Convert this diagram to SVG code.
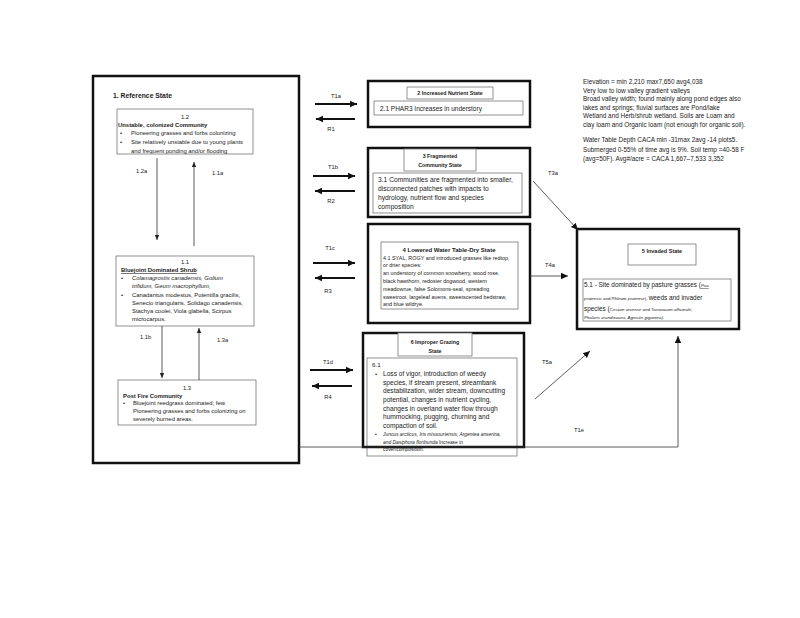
<svg xmlns="http://www.w3.org/2000/svg" width="800" height="618" viewBox="0 0 800 618">
<defs>
<style>
text{font-family:"Liberation Sans",Arial,sans-serif;fill:#1a1a1a}
.b{font-weight:bold}
.i{font-style:italic}
.mid{text-anchor:middle}
.outer{fill:none;stroke:#111;stroke-width:2.5}
.inner{fill:#fff;stroke:#777;stroke-width:0.8}
.thick{stroke:#111;stroke-width:1.8;fill:none}
.thin{stroke:#333;stroke-width:0.8;fill:none}
.lbl{font-size:5.8px}
</style>
<marker id="ah" markerUnits="userSpaceOnUse" markerWidth="8" markerHeight="8" refX="7" refY="4" orient="auto"><path d="M0,0.8 L7,4 L0,7.2 Z" fill="#111"/></marker>
<marker id="as" markerUnits="userSpaceOnUse" markerWidth="6" markerHeight="6" refX="5" refY="3" orient="auto"><path d="M0,0.8 L5,3 L0,5.2 Z" fill="#222"/></marker>
</defs>
<rect width="800" height="618" fill="#fff"/>

<g id="ref-state">
<rect class="outer" x="93" y="76" width="206" height="387"/>
<text class="b" x="113" y="98" font-size="6.8">1. Reference State</text>
</g>

<g id="node-1-2">
<rect class="inner" x="117" y="109" width="136" height="45"/>
<text class="mid" x="185" y="119" font-size="5.9">1.2</text>
<text class="b" x="118" y="126.5" font-size="5.9">Unstable, colonized Community</text>
<text x="120" y="135" font-size="5.9">•</text>
<text x="131" y="135" font-size="5.9">Pioneering grasses and forbs colonizing</text>
<text x="120" y="144" font-size="5.9">•</text>
<text x="131" y="144" font-size="5.9">Site relatively unstable due to young plants</text>
<text x="131" y="152.5" font-size="5.9">and frequent ponding and/or flooding</text>
</g>

<g id="node-1-1">
<rect class="inner" x="116" y="256" width="138" height="70"/>
<text class="mid" x="185" y="264" font-size="5.9">1.1</text>
<text class="b" x="121" y="272" font-size="5.9" text-decoration="underline">Bluejoint Dominated Shrub</text>
<text x="121" y="280" font-size="5.9">•</text>
<text class="i" x="132" y="280" font-size="5.9">Colamagrostis canadensis, Golium</text>
<text class="i" x="132" y="288" font-size="5.9">trifidum, Geum macrophyllum,</text>
<text x="121" y="297" font-size="5.9">•</text>
<text x="132" y="297" font-size="5.9">Canadantus modestus, Potentilla gracilis,</text>
<text x="132" y="305" font-size="5.9">Senecio triangularis, Solidago canadensis,</text>
<text x="132" y="313" font-size="5.9">Stachya coolei, Viola glabella, Scirpus</text>
<text x="132" y="320.5" font-size="5.9">microcarpus.</text>
</g>

<g id="node-1-3">
<rect class="inner" x="118" y="380" width="138" height="45"/>
<text class="mid" x="187" y="390" font-size="5.9">1.3</text>
<text class="b" x="123" y="398" font-size="5.9">Post Fire Community</text>
<text x="123" y="405" font-size="5.9">•</text>
<text x="133" y="405" font-size="5.9">Bluejoint reedgrass dominated; few</text>
<text x="133" y="413" font-size="5.9">Pioneering grasses and forbs colonizing on</text>
<text x="133" y="421" font-size="5.9">severely burned areas.</text>
</g>

<g id="state-2">
<rect class="outer" x="368" y="81" width="162" height="46"/>
<rect class="inner" x="407" y="87" width="86" height="12"/>
<text class="b mid" x="450" y="95" font-size="5.3">2 Increased Nutrient State</text>
<rect class="inner" x="374" y="101" width="149" height="14"/>
<text x="380" y="110.5" font-size="6.5">2.1 PHAR3 Increases in understory</text>
</g>

<g id="state-3">
<rect class="outer" x="368" y="148" width="162" height="69"/>
<rect class="inner" x="404" y="149" width="72" height="22"/>
<text class="b mid" x="440" y="158" font-size="5.3">3 Fragmented</text>
<text class="b mid" x="440" y="167" font-size="5.3">Community State</text>
<rect class="inner" x="373" y="173" width="149" height="40"/>
<text x="378" y="182" font-size="6.7">3.1 Communities are fragmented into smaller,</text>
<text x="378" y="191" font-size="6.7">disconnected patches with impacts to</text>
<text x="378" y="200" font-size="6.7">hydrology, nutrient flow and species</text>
<text x="378" y="208.5" font-size="6.7">composition</text>
</g>

<g id="state-4">
<rect class="outer" x="368" y="224" width="162" height="99"/>
<rect class="inner" x="381" y="242" width="137" height="67"/>
<text class="b mid" x="449" y="252" font-size="6">4  Lowered Water Table-Dry State</text>
<text x="383" y="259.5" font-size="5.4">4.1 SYAL, ROGY and introduced grasses like redtop,</text>
<text x="383" y="267.3" font-size="5.4">or drier species:</text>
<text x="383" y="275.1" font-size="5.4">an understory of common snowberry, wood rose,</text>
<text x="383" y="282.9" font-size="5.4">black hawthorn, redosier dogwood, western</text>
<text x="383" y="290.7" font-size="5.4">meadowrue, false Solomons-seal, spreading</text>
<text x="383" y="298.5" font-size="5.4">sweetroot, largeleaf avens, sweetscented bedstraw,</text>
<text x="383" y="306" font-size="5.4">and blue wildrye.</text>
</g>

<g id="state-6">
<rect class="inner" x="367" y="358" width="150" height="98"/>
<text x="372" y="367" font-size="6.2">6.1</text>
<text x="375" y="376" font-size="6.2">•</text>
<text x="383" y="376" font-size="6.6">Loss of vigor, introduction of weedy</text>
<text x="383" y="384.7" font-size="6.6">species, if stream present, streambank</text>
<text x="383" y="393.3" font-size="6.6">destabilization, wider stream, downcutting</text>
<text x="383" y="402" font-size="6.6">potential, changes in nutrient cycling,</text>
<text x="383" y="410.7" font-size="6.6">changes in overland water flow through</text>
<text x="383" y="419.3" font-size="6.6">hummocking, pugging, churning and</text>
<text x="383" y="428" font-size="6.6">compaction of soil.</text>
<text x="375" y="436" font-size="5">•</text>
<text class="i" x="383" y="436" font-size="4.9">Juncus arcticus, Iris missouriensis, Argentea anserina,</text>
<text x="383" y="443.5" font-size="4.9"><tspan class="i">and Dasiphora floribunda</tspan>  Increase in</text>
<text x="383" y="451" font-size="4.9">cover/composition.</text>
<rect class="outer" x="363" y="333" width="161" height="114"/>
<rect class="inner" x="398" y="333" width="74" height="23"/>
<text class="b mid" x="435" y="344" font-size="5.3">6 Improper Grazing</text>
<text class="b mid" x="435" y="353" font-size="5.3">State</text>
</g>

<g id="state-5">
<rect class="outer" x="577" y="229" width="162" height="100"/>
<rect class="inner" x="628" y="244" width="68" height="21"/>
<text class="b mid" x="662" y="253" font-size="5.5">5 Invaded State</text>
<rect class="inner" x="583" y="279" width="148" height="42"/>
<text x="584" y="287" font-size="6.4">5.1 - Site dominated by pasture grasses (<tspan class="i" font-size="4.4" text-decoration="underline">Poa</tspan></text>
<text x="584" y="300" font-size="4.4"><tspan class="i">pratensis</tspan> and <tspan class="i">Phleum pratense</tspan>),  <tspan font-size="6.4">weeds and invader</tspan></text>
<text x="584" y="311" font-size="6.4">species (<tspan class="i" font-size="4.4">Cirsium arvense</tspan><tspan font-size="4.4"> and </tspan><tspan class="i" font-size="4.4">Taraxacum officinale,</tspan></text>
<text class="i" x="584" y="319" font-size="4.4">Phalaris arundinacea, Agrostis gigantea).</text>
</g>

<g id="site-notes">
<text x="583" y="84" font-size="6.4">Elevation = min 2,210 max7,650 avg4,038</text>
<text x="583" y="92.5" font-size="6.4">Very low to low  valley gradient valleys</text>
<text x="583" y="101" font-size="6.4">Broad valley width; found mainly along pond edges also</text>
<text x="583" y="109.5" font-size="6.4">lakes and springs; fluvial surfaces are Pond/lake</text>
<text x="583" y="118" font-size="6.4">Wetland and Herb/shrub wetland. Soils are Loam and</text>
<text x="583" y="126.5" font-size="6.4">clay loam and Organic loam (not enough for organic soil).</text>
<text x="583" y="142" font-size="6.4">Water Table Depth  CACA min -31max 2avg -14 plots5.</text>
<text x="583" y="151.5" font-size="6.4">Submerged 0-55% of time avg is 9%. Soil temp =40-58 F</text>
<text x="583" y="160.5" font-size="6.4">(avg=50F). Avg#/acre = CACA 1,667–7,533 3,352</text>
</g>

<g id="connectors">
<line class="thin" x1="157" y1="158" x2="157" y2="240" marker-end="url(#as)"/>
<line class="thin" x1="194" y1="246" x2="194" y2="162" marker-end="url(#as)"/>
<line class="thin" x1="162" y1="326" x2="162" y2="378" marker-end="url(#as)"/>
<line class="thin" x1="199" y1="380" x2="199" y2="328" marker-end="url(#as)"/>
<text class="lbl" x="136" y="173">1.2a</text>
<text class="lbl" x="212" y="175">1.1a</text>
<text class="lbl" x="140" y="339">1.1b</text>
<text class="lbl" x="217" y="342">1.3a</text>

<line class="thick" x1="315" y1="104" x2="357" y2="104" marker-end="url(#ah)"/>
<line class="thick" x1="355" y1="119" x2="316" y2="119" marker-end="url(#ah)"/>
<line class="thick" x1="313" y1="176" x2="355" y2="176" marker-end="url(#ah)"/>
<line class="thick" x1="355" y1="191" x2="315" y2="191" marker-end="url(#ah)"/>
<line class="thick" x1="313" y1="263" x2="355" y2="263" marker-end="url(#ah)"/>
<line class="thick" x1="355" y1="278" x2="315" y2="278" marker-end="url(#ah)"/>
<line class="thick" x1="310" y1="370" x2="353" y2="370" marker-end="url(#ah)"/>
<line class="thick" x1="352" y1="386" x2="312" y2="386" marker-end="url(#ah)"/>
<text class="lbl mid" x="336" y="98">T1a</text>
<text class="lbl mid" x="331" y="131">R1</text>
<text class="lbl mid" x="333" y="169">T1b</text>
<text class="lbl mid" x="331" y="203">R2</text>
<text class="lbl mid" x="330" y="250">T1c</text>
<text class="lbl mid" x="328" y="293">R3</text>
<text class="lbl mid" x="328" y="364">T1d</text>
<text class="lbl mid" x="328" y="399">R4</text>

<line class="thin" stroke-width="1.3" x1="533" y1="181" x2="578" y2="230" marker-end="url(#ah)"/>
<line class="thin" stroke-width="1.3" x1="530" y1="276" x2="568" y2="276" marker-end="url(#ah)"/>
<line class="thin" stroke-width="1.3" x1="535" y1="399" x2="590" y2="351" marker-end="url(#ah)"/>
<polyline class="thin" stroke-width="1.3" points="299,447 678,447 678,336" marker-end="url(#ah)"/>
<text class="lbl mid" x="553" y="175">T3a</text>
<text class="lbl mid" x="550" y="267">T4a</text>
<text class="lbl mid" x="547" y="364">T5a</text>
<text class="lbl mid" x="579" y="432">T1e</text>
</g>
</svg>
